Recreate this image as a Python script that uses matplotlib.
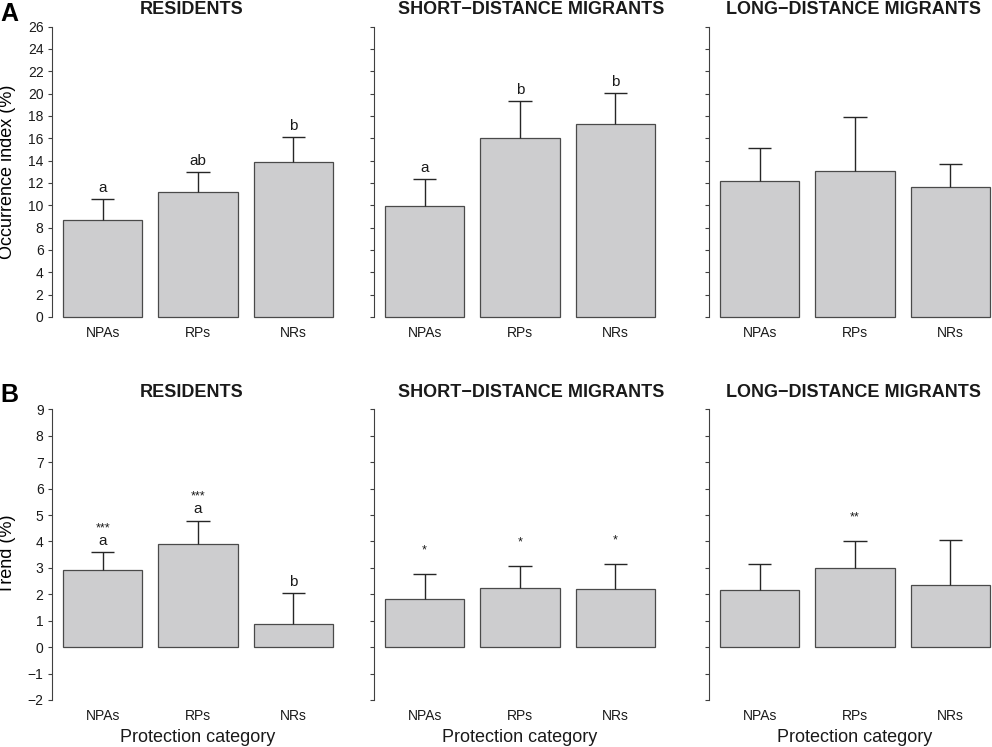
import matplotlib.pyplot as plt
import numpy as np

plt.rcParams['font.family'] = ['Liberation Sans', 'DejaVu Sans']

categories = ['NPAs', 'RPs', 'NRs']
groups = ['RESIDENTS', 'SHORT\u2212DISTANCE MIGRANTS', 'LONG\u2212DISTANCE MIGRANTS']

# Occurrence index (%): bar height and top of error bar
occ_mean = [[8.7, 11.2, 13.9], [9.95, 16.0, 17.3], [12.2, 13.05, 11.6]]
occ_upper = [[10.55, 13.0, 16.07], [12.37, 19.3, 20.07], [15.1, 17.9, 13.66]]
occ_letters = [['a', 'ab', 'b'], ['a', 'b', 'b'], ['', '', '']]
occ_stars = [['', '', ''], ['', '', ''], ['', '', '']]

# Trend (%): bar height and top of error bar
trend_mean = [[2.93, 3.9, 0.88], [1.83, 2.23, 2.19], [2.17, 3.01, 2.37]]
trend_upper = [[3.6, 4.79, 2.03], [2.76, 3.06, 3.14], [3.13, 4.0, 4.07]]
trend_letters = [['a', 'a', 'b'], ['', '', ''], ['', '', '']]
trend_stars = [['***', '***', ''], ['*', '*', '*'], ['', '**', '']]

W, H = 992, 747
fig = plt.figure(figsize=(W / 100, H / 100), dpi=100)

xs = np.array([0.7, 1.9, 3.1])
lefts = [52, 374, 709]
title_x = [192, 531, 854]
panel_w = 292

bar_col = '#cdcdcf'
edge_col = '#4a4a4a'
line_col = '#262626'


def draw_panel(ax, mean, upper, letters, stars, ylim, yticks, first):
    ax.bar(xs, mean, width=1.0, color=bar_col, edgecolor=edge_col, linewidth=0.9)
    ax.vlines(xs, mean, upper, color=line_col, lw=1)
    ax.hlines(upper, xs - 0.145, xs + 0.145, color=line_col, lw=1)
    for x, u, l, s in zip(xs, upper, letters, stars):
        if l:
            ax.annotate(l, (x, u), xytext=(0, 5.2), textcoords='offset points',
                        ha='center', va='baseline', fontsize=11, color='#1a1a1a')
        if s:
            ax.annotate(s, (x, u), xytext=(0, 15), textcoords='offset points',
                        ha='center', va='baseline', fontsize=9, color='#1a1a1a')
    ax.set_xlim(0.064, 3.736)
    ax.set_ylim(*ylim)
    ax.set_yticks(yticks)
    ax.spines['left'].set_bounds(yticks[0], yticks[-1])
    ax.spines['left'].set_color('#404040')
    for s in ['top', 'right', 'bottom']:
        ax.spines[s].set_visible(False)
    ax.set_xticks(xs, categories)
    ax.tick_params(axis='x', length=0, pad=-2, labelsize=10, labelcolor='#1a1a1a')
    ax.tick_params(axis='y', length=2.9, width=0.8, color='#404040', pad=3.2,
                   labelsize=10, labelcolor='#1a1a1a', labelleft=first)
    ax.patch.set_visible(False)


# top row: occurrence index
top_top, top_bot = 14.9, 328.6
for i in range(3):
    ax = fig.add_axes([lefts[i] / W, 1 - top_bot / H, panel_w / W, (top_bot - top_top) / H])
    draw_panel(ax, occ_mean[i], occ_upper[i], occ_letters[i], occ_stars[i],
               (-1.04, 27.04), np.arange(0, 27, 2), i == 0)
    if i == 0:
        ax.set_ylabel('Occurrence index (%)', fontsize=13, va='center')
        ax.yaxis.set_label_coords(-0.151, 0.5)
    fig.text(title_x[i] / W, 1 - 14 / H, groups[i], ha='center', va='baseline',
             fontsize=13, fontweight='bold', color='#1a1a1a')

# bottom row: trend
bot_top, bot_bot = 397.7, 711.6
for i in range(3):
    ax = fig.add_axes([lefts[i] / W, 1 - bot_bot / H, panel_w / W, (bot_bot - bot_top) / H])
    draw_panel(ax, trend_mean[i], trend_upper[i], trend_letters[i], trend_stars[i],
               (-2.44, 9.44), np.arange(-2, 10, 1), i == 0)
    if i == 0:
        ax.set_ylabel('Trend (%)', fontsize=13, va='center')
        ax.yaxis.set_label_coords(-0.151, 0.5)
    ax.set_xlabel('Protection category', fontsize=13, va='center', color='#1a1a1a')
    ax.xaxis.set_label_coords(0.5, -(737 - bot_bot) / (bot_bot - bot_top))
    fig.text(title_x[i] / W, 1 - 397 / H, groups[i], ha='center', va='baseline',
             fontsize=13, fontweight='bold', color='#1a1a1a')

fig.text(0.0, 1 - 20.7 / H, 'A', ha='left', va='baseline', fontsize=18, fontweight='bold')
fig.text(0.0, 1 - 402 / H, 'B', ha='left', va='baseline', fontsize=18, fontweight='bold')

fig.savefig('out.png', dpi=100)
